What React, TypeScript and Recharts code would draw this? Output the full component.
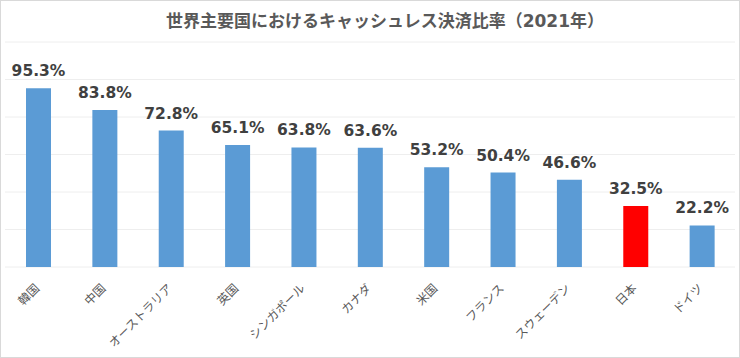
import React from "react";
import { BarChart, Bar, XAxis, YAxis, CartesianGrid, Cell, LabelList } from "recharts";

const categories = ["韓国", "中国", "オーストラリア", "英国", "シンガポール", "カナダ", "米国", "フランス", "スウェーデン", "日本", "ドイツ"];
const values = [95.3, 83.8, 72.8, 65.1, 63.8, 63.6, 53.2, 50.4, 46.6, 32.5, 22.2];
const highlight = "日本";
const yTicks = [0, 20, 40, 60, 80, 100, 120];
const title = "世界主要国におけるキャッシュレス決済比率（2021年）";

const data = categories.map((c, i) => ({ name: c, value: values[i] }));

const Tick = (props: any) => {
  const { x, y, payload } = props;
  return (
    <g transform={`translate(${x + 2},${y + 22})`}>
      <text
        x={0}
        y={0}
        textAnchor="end"
        transform="rotate(-45)"
        fill="#595959"
        fontSize={12}
        fontFamily="'Noto Sans CJK JP', sans-serif"
      >
        {payload.value}
      </text>
    </g>
  );
};

export default function App() {
  return (
    <div
      style={{
        position: "absolute",
        left: 0,
        top: 0,
        width: 740,
        height: 358,
        boxSizing: "border-box",
        border: "1px solid #d9d9d9",
        background: "#fff",
      }}
    >
      <div
        style={{
          position: "absolute",
          left: 384,
          top: 8,
          transform: "translateX(-50%)",
          whiteSpace: "nowrap",
          fontFamily: "'DejaVu Sans', 'Noto Sans CJK JP', sans-serif",
          fontWeight: 700,
          fontSize: 17,
          lineHeight: "24px",
          color: "#595959",
        }}
      >
        {title}
      </div>
      <div style={{ position: "absolute", left: -1, top: -1 }}>
        <BarChart
          width={740}
          height={358}
          data={data}
          margin={{ top: 42, right: 5, left: 5, bottom: 11 }}
        >
          <CartesianGrid vertical={false} stroke="#eeeeee" />
          <YAxis hide domain={[0, 120]} ticks={yTicks} />
          <XAxis
            dataKey="name"
            interval={0}
            axisLine={false}
            tickLine={false}
            tickSize={0}
            tickMargin={0}
            height={80}
            tick={<Tick />}
          />
          <Bar dataKey="value" barSize={25} isAnimationActive={false}>
            {data.map((d) => (
              <Cell key={d.name} fill={d.name === highlight ? "#FF0000" : "#5B9BD5"} />
            ))}
            <LabelList
              dataKey="value"
              position="top"
              offset={12}
              formatter={(v: any) => `${Number(v).toFixed(1)}%`}
              fill="#404040"
              fontSize={15.5}
              fontWeight={700}
              fontFamily="'DejaVu Sans', sans-serif"
            />
          </Bar>
        </BarChart>
      </div>
    </div>
  );
}
